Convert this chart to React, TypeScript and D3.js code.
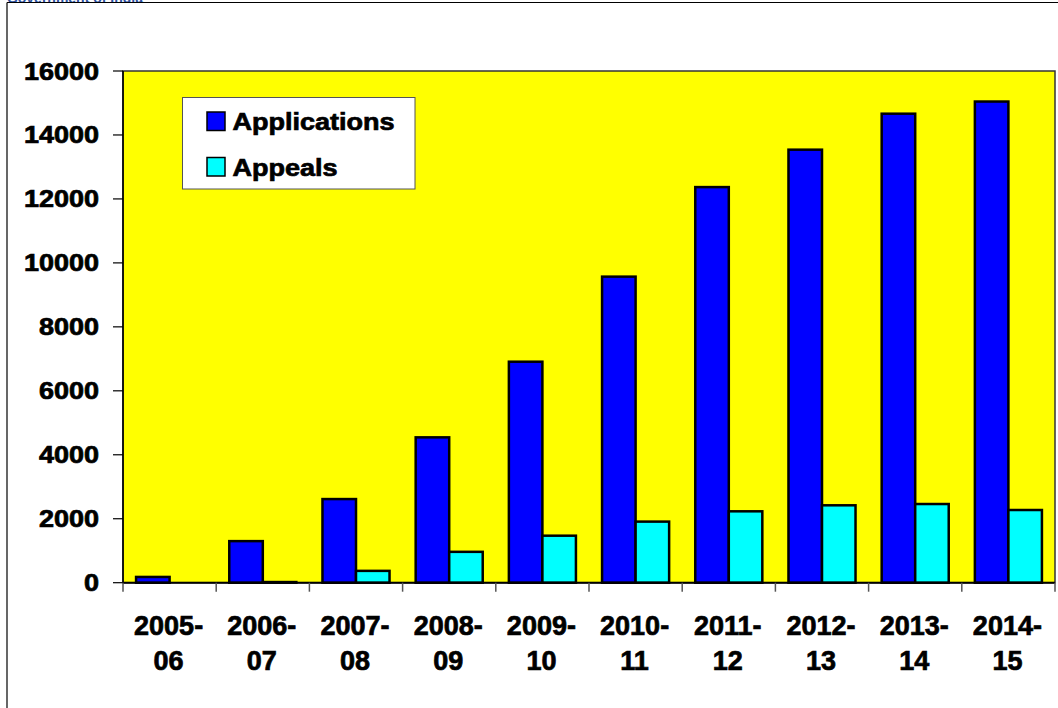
import React from "react";
import * as d3 from "d3";

const categories = ["2005-06", "2006-07", "2007-08", "2008-09", "2009-10", "2010-11", "2011-12", "2012-13", "2013-14", "2014-15"];
const applications = [180, 1300, 2615, 4545, 6910, 9570, 12370, 13540, 14665, 15045];
const appeals = [0, 20, 370, 965, 1470, 1910, 2232, 2420, 2460, 2273];
const seriesNames = ["Applications", "Appeals"];
const seriesColors = ["#0000FF", "#00FFFF"];
const yTicks = [0, 2000, 4000, 6000, 8000, 10000, 12000, 14000, 16000];

const W = 1058;
const H = 708;
const left = 123;
const right = 1055;
const top = 71;
const bottom = 582.7;

export default function App() {
  const x = d3.scaleBand<string>().domain(categories).range([left, right]).padding(0);
  const xs = d3.scaleBand<string>().domain(seriesNames).range([0, x.bandwidth()]).paddingInner(0).paddingOuter(0.39);
  const y = d3.scaleLinear().domain([0, 16000]).range([bottom, top]);
  const series = [applications, appeals];
  const font = "'Liberation Sans', Arial, Helvetica, sans-serif";
  const txtStroke = { stroke: "#000", strokeWidth: 0.7 };

  return (
    <div style={{ position: "absolute", left: 0, top: 0 }}>
      <svg width={W} height={H} style={{ display: "block" }} fontFamily={font}>
        <rect x={0} y={0} width={W} height={H} fill="#ffffff" />
        <text x={143} y={2.5} textAnchor="end" fontSize={14} fontWeight="bold" fill="#2a4fa0">Government of India</text>
        {/* outer frame */}
        <line x1={7} y1={2.5} x2={W} y2={2.5} stroke="#000" strokeWidth={1.2} />
        <line x1={7} y1={2.5} x2={7} y2={H} stroke="#000" strokeWidth={1.2} />
        {/* plot area */}
        <rect x={left} y={top} width={right - left} height={bottom - top} fill="#FFFF00" stroke="#333" strokeWidth={1.5} />
        {/* bars */}
        {series.map((vals, si) =>
          vals.map((v, i) => {
            const bx = (x(categories[i]) as number) + (xs(seriesNames[si]) as number);
            const by = y(v);
            return (
              <rect key={`${si}-${i}`} x={bx} y={by} width={xs.bandwidth()} height={Math.max(0, bottom - by)}
                fill={seriesColors[si]} stroke="#000" strokeWidth={2.5} />
            );
          })
        )}
        {/* y axis */}
        <line x1={left} y1={top} x2={left} y2={bottom} stroke="#000" strokeWidth={1.5} />
        {yTicks.map((t) => (
          <g key={t}>
            <line x1={113} x2={left} y1={y(t)} y2={y(t)} stroke="#000" strokeWidth={1.2} />
            <g transform={`translate(99, ${y(t) + 8.5}) scale(1.15, 1)`}>
              <text x={0} y={0} textAnchor="end" fontSize={23.5} fontWeight="bold" fill="#000" {...txtStroke}>{t}</text>
            </g>
          </g>
        ))}
        {/* x axis */}
        <line x1={left} y1={bottom} x2={right} y2={bottom} stroke="#000" strokeWidth={2} />
        {categories.map((c, i) => (
          <line key={`t${i}`} x1={x(c) as number} x2={x(c) as number} y1={bottom} y2={bottom + 9} stroke="#555" strokeWidth={1.5} />
        ))}
        <line x1={right} x2={right} y1={bottom} y2={bottom + 9} stroke="#555" strokeWidth={1.5} />
        {categories.map((c) => {
          const [a, b] = c.split("-");
          const cx = (x(c) as number) + x.bandwidth() / 2 - 1;
          return (
            <text key={c} textAnchor="middle" fontSize={27} fontWeight="bold" fill="#000" {...txtStroke}>
              <tspan x={cx} y={635}>{a + "-"}</tspan>
              <tspan x={cx} y={670}>{b}</tspan>
            </text>
          );
        })}
        {/* legend */}
        <rect x={182.5} y={97.5} width={232.5} height={91.5} fill="#fff" stroke="#555" strokeWidth={1} />
        {seriesNames.map((n, i) => (
          <g key={n}>
            <rect x={207} y={112 + i * 45.5} width={18} height={18.5} fill={seriesColors[i]} stroke="#000" strokeWidth={1.5} />
            <g transform={`translate(232.5, ${130 + i * 45.5}) scale(1.15, 1)`}>
              <text x={0} y={0} fontSize={23.5} fontWeight="bold" fill="#000" {...txtStroke}>{n}</text>
            </g>
          </g>
        ))}
      </svg>
    </div>
  );
}
